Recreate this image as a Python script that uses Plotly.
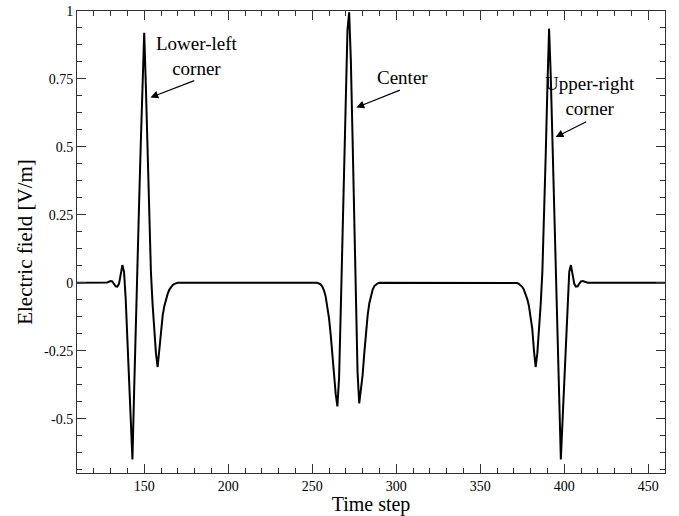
import plotly.graph_objects as go

# Time steps and electric field values
time_step = [
    110, 127, 128, 129, 130, 131, 132, 133, 134, 135, 136, 137, 138, 139, 140, 141,
    142, 143, 144, 145, 146, 147, 148, 149, 150, 151, 152, 153, 154, 155, 156, 157,
    158, 159, 160, 161, 162, 163, 164, 165, 166, 167, 168, 169, 170,
    253, 254, 255, 256, 257, 258, 259, 260, 261, 262, 263, 264, 265, 266, 267, 268,
    269, 270, 271, 272, 273, 274, 275, 276, 277, 278, 279, 280, 281, 282, 283, 284,
    285, 286, 287, 288, 289, 290,
    371, 372, 373, 374, 375, 376, 377, 378, 379, 380, 381, 382, 383, 384, 385, 386,
    387, 388, 389, 390, 391, 392, 393, 394, 395, 396, 397, 398, 399, 400, 401, 402,
    403, 404, 405, 406, 407, 408, 409, 410, 411, 412, 413, 414, 460,
]
e_field = [
    0, 0, 0.001, 0.004, 0.006, 0.005, -0.003, -0.013, -0.014, -0.004, 0.03, 0.065, 0.04, -0.06, -0.21, -0.36,
    -0.51, -0.65, -0.40, -0.14, 0.09, 0.30, 0.52, 0.76, 0.92, 0.72, 0.47, 0.22, 0.04, -0.08, -0.18, -0.26,
    -0.31, -0.25, -0.17, -0.12, -0.085, -0.06, -0.04, -0.025, -0.015, -0.008, -0.004, -0.001, 0,
    0, -0.002, -0.006, -0.014, -0.028, -0.05, -0.085, -0.13, -0.19, -0.27, -0.35, -0.41, -0.455, -0.35, -0.10, 0.18,
    0.46, 0.72, 0.93, 0.995, 0.82, 0.54, 0.24, -0.06, -0.33, -0.444, -0.40, -0.34, -0.26, -0.18, -0.12, -0.075,
    -0.045, -0.025, -0.012, -0.005, -0.002, 0,
    0, -0.001, -0.004, -0.008, -0.015, -0.025, -0.04, -0.06, -0.085, -0.12, -0.17, -0.25, -0.31, -0.26, -0.18, -0.08,
    0.04, 0.22, 0.47, 0.72, 0.935, 0.76, 0.52, 0.30, 0.09, -0.14, -0.40, -0.65, -0.51, -0.36, -0.21, -0.06,
    0.04, 0.065, 0.03, -0.004, -0.014, -0.013, -0.003, 0.005, 0.006, 0.004, 0.001, 0, 0,
]

x_tickvals = [150, 200, 250, 300, 350, 400, 450]
x_ticktext = ["150", "200", "250", "300", "350", "400", "450"]
y_tickvals = [1, 0.75, 0.5, 0.25, 0, -0.25, -0.5]
y_ticktext = ["1", "0.75", "0.5", "0.25", "0", "-0.25", "-0.5"]

labels = ["Lower-left<br>corner", "Center", "Upper-right<br>corner"]
label_pos = [(181.4, 0.836), (304.0, 0.754), (415.2, 0.687)]
arrow_tail = [(180.7, 0.746), (303.1, 0.711), (414.0, 0.595)]
arrow_head = [(153.7, 0.682), (276.3, 0.645), (394.9, 0.536)]

FONT = "Liberation Serif, Times New Roman, serif"

fig = go.Figure()
fig.add_trace(go.Scatter(
    x=time_step, y=e_field, mode="lines",
    line=dict(color="black", width=2),
    hoverinfo="skip", showlegend=False,
))

annotations = []
for txt, (tx, ty) in zip(labels, label_pos):
    annotations.append(dict(
        x=tx, y=ty, xref="x", yref="y", text=txt, showarrow=False,
        font=dict(family=FONT, size=19, color="black"), align="center",
    ))
for (ax_, ay_), (hx, hy) in zip(arrow_tail, arrow_head):
    annotations.append(dict(
        x=hx, y=hy, ax=ax_, ay=ay_, xref="x", yref="y", axref="x", ayref="y",
        text="", showarrow=True, arrowhead=2, arrowsize=1.3, arrowwidth=1.2,
        arrowcolor="black", standoff=0, startstandoff=0,
    ))

axis_common = dict(
    showgrid=False, zeroline=False, showline=True, linecolor="#333333", linewidth=1,
    mirror="ticks", ticks="inside", tickcolor="#333333", tickwidth=1, ticklen=9,
    tickfont=dict(family=FONT, size=14, color="black"), automargin=False,
)

fig.update_layout(
    width=679, height=516,
    margin=dict(l=77, r=14, t=11, b=43, autoexpand=False),
    paper_bgcolor="white", plot_bgcolor="white",
    xaxis=dict(
        range=[110, 460], tickmode="array", tickvals=x_tickvals, ticktext=x_ticktext,
        minor=dict(dtick=10, tick0=0, ticks="inside", ticklen=5, tickcolor="#333333", showgrid=False),
        title=dict(text="Time step", font=dict(family=FONT, size=20, color="black"), standoff=8),
        **axis_common,
    ),
    yaxis=dict(
        range=[-0.7, 1], tickmode="array", tickvals=y_tickvals, ticktext=y_ticktext,
        minor=dict(dtick=0.0625, tick0=0, ticks="inside", ticklen=5, tickcolor="#333333", showgrid=False),
        title=dict(text="Electric field [V/m]", font=dict(family=FONT, size=21, color="black"), standoff=5),
        **axis_common,
    ),
    annotations=annotations,
)

fig.write_html(
    "out.html",
    config={"displayModeBar": False},
    post_script="document.body.style.margin='0';",
)
